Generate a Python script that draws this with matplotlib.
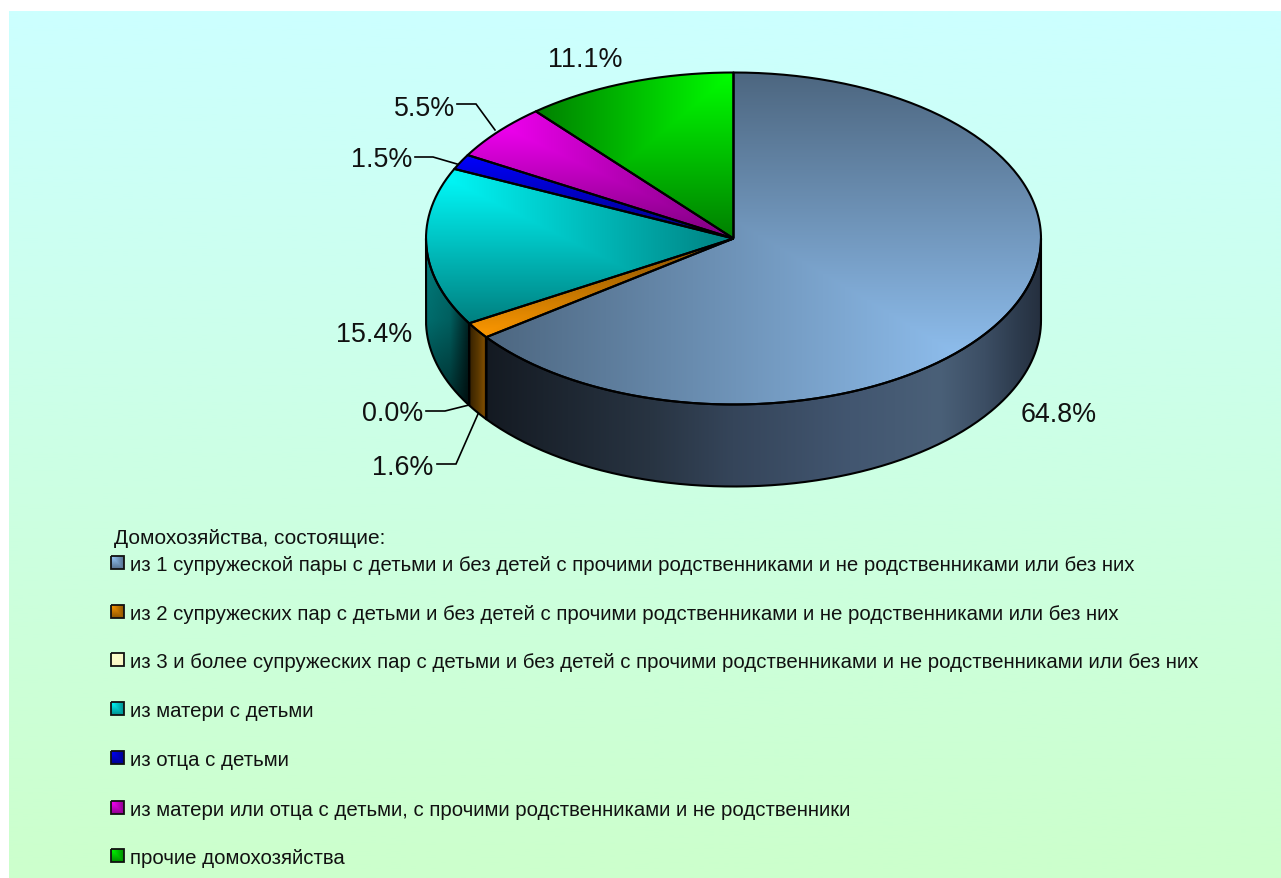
import numpy as np
import matplotlib
matplotlib.use("Agg")
import matplotlib.pyplot as plt
from matplotlib.path import Path
from matplotlib.patches import PathPatch
from matplotlib.colors import to_rgb

# ---- data ----
legend_title = "Домохозяйства, состоящие:"
categories = [
    "из 1 супружеской пары с детьми и без детей с прочими родственниками и не родственниками или без них",
    "из 2 супружеских пар с детьми и без детей с прочими родственниками и не родственниками или без них",
    "из 3 и более супружеских пар с детьми и без детей с прочими родственниками и не родственниками или без них",
    "из матери с детьми",
    "из отца с детьми",
    "из матери или отца с детьми, с прочими родственниками и не родственники",
    "прочие домохозяйства",
]
values = [64.8, 1.6, 0.0, 15.4, 1.5, 5.5, 11.1]
colors = ["#99CCFF", "#FF9900", "#FFFFCC", "#00FFFF", "#0000FF", "#FF00FF", "#00FF00"]

# ---- layout (pixel space of the figure) ----
W, H = 1281, 879
CX, CY, RX, RY, DEPTH = 733.5, 239.5, 307.5, 166, 82
bright_corner = ["br", "bl", "tl", "tl", "tl", "tl", "tr"]
wall_stops = {
    0: [(486, "#141a22"), (650, "#283442"), (733, "#35455a"), (850, "#425670"),
        (940, "#4a6078"), (985, "#3c4e64"), (1020, "#2c3a4c"), (1041, "#25303f")],
    1: [(470, "#3a2400"), (478, "#5a3800"), (484, "#7a4a00"), (487, "#4a2d00")],
    3: [(426, "#008080"), (450, "#007070"), (460, "#004a4a"), (470, "#002222")],
}
wall_y_fade = {3: ([239, 320, 406], [1.0, 0.85, 0.4])}
label_pos = [
    (1097, 415, "right"), (433, 468, "right"), (423, 414, "right"), (412, 335, "right"),
    (412, 160, "right"), (455, 109, "right"), (622, 60, "right"),
]
leaders = {
    1: [(437, 465), (456, 465), (478, 415)],
    2: [(426, 412), (445, 412), (469, 406)],
    4: [(415, 158), (433, 158), (457, 165)],
    5: [(457, 105), (476, 105), (495, 131)],
}
legend_x_text, legend_x_box = 130, 110.5
legend_ys = [564, 613, 661, 710, 759, 809, 857]

plt.rcParams["font.family"] = ["Liberation Sans", "DejaVu Sans"]
fig = plt.figure(figsize=(W / 100, H / 100), dpi=100, facecolor="white")
ax = fig.add_axes([0, 0, 1, 1])
ax.set_axis_off()


def rect_gradient(x0, x1, y0, y1, base, corner, low=0.5):
    """Path-style gradient: brightest in one corner, half-dark on the far edges."""
    nx = max(int(x1 - x0), 2)
    ny = max(int(y1 - y0), 2)
    xs = (np.arange(nx) + 0.5) / nx
    ys = (np.arange(ny) + 0.5) / ny
    if "r" not in corner:
        xs = 1 - xs
    if "b" not in corner:
        ys = 1 - ys
    X, Y = np.meshgrid(xs, ys)
    f = np.minimum(X, Y)[..., None]
    c = np.array(to_rgb(base))
    return c * (low + (1 - low) * f)


def arc(t0, t1, dy=0.0, n=200):
    t = np.radians(np.linspace(t0, t1, n))
    return np.column_stack([CX + RX * np.sin(t), CY + dy - RY * np.cos(t)])


def fill_image(img, extent, verts):
    path = Path(np.vstack([verts, verts[:1]]))
    im = ax.imshow(img, extent=extent, aspect="auto", interpolation="bilinear", zorder=2)
    im.set_clip_path(path, ax.transData)
    ax.add_patch(PathPatch(path, fc="none", ec="black", lw=1.5, joinstyle="round", zorder=3))


# background
top = np.array(to_rgb("#CCFFFF"))
bot = np.array(to_rgb("#CCFFCC"))
grad = np.linspace(0, 1, 400)[:, None, None] * (bot - top) + top
ax.imshow(grad, extent=(9, W, H, 12), aspect="auto", zorder=0)

# pie geometry from the values
total = sum(values)
edges = np.concatenate([[0], np.cumsum(values)]) / total * 360

# side walls
for i, v in enumerate(values):
    t0, t1 = edges[i], edges[i + 1]
    a, b = max(t0, 90), min(t1, 270)
    if v <= 0 or a >= b:
        continue
    outer = arc(a, b)
    verts = np.vstack([outer, arc(b, a, DEPTH)])
    stops = wall_stops[i]
    xs = np.arange(int(verts[:, 0].min()), int(verts[:, 0].max()) + 2)
    y_lo, y_hi = verts[:, 1].min(), verts[:, 1].max()
    sx = [s[0] for s in stops]
    rgb = np.array([to_rgb(s[1]) for s in stops])
    img = np.stack([np.interp(xs, sx, rgb[:, k]) for k in range(3)], axis=-1)[None, ...]
    if i in wall_y_fade:
        ys = np.arange(int(y_lo), int(y_hi) + 1)
        fade = np.interp(ys, *wall_y_fade[i])[:, None, None]
        img = img * fade
    fill_image(img, (xs[0], xs[-1], y_hi, y_lo), verts)

# top faces
for i, v in enumerate(values):
    if v <= 0:
        continue
    t0, t1 = edges[i], edges[i + 1]
    verts = np.vstack([[[CX, CY]], arc(t0, t1)])
    x0, x1 = verts[:, 0].min(), verts[:, 0].max()
    y0, y1 = verts[:, 1].min(), verts[:, 1].max()
    img = rect_gradient(x0, x1, y0, y1, colors[i], bright_corner[i])
    fill_image(img, (x0, x1, y1, y0), verts)

# leader lines
for i, pts in leaders.items():
    p = np.array(pts)
    ax.plot(p[:, 0], p[:, 1], color="black", lw=1.2, zorder=4, solid_joinstyle="miter")

# value labels
for v, (x, y, ha) in zip(values, label_pos):
    ax.text(x, y, f"{v:.1f}%", ha=ha, va="center", fontsize=19.4, color="#111111", zorder=5)

# legend
ax.text(114, 538.5, legend_title, ha="left", va="center", fontsize=15.0, color="#111111", zorder=5)
for name, col, y in zip(categories, colors, legend_ys):
    sz = 13
    x0, y0 = legend_x_box, y - sz / 2 - 0.5
    img = rect_gradient(x0, x0 + sz, y0, y0 + sz, col, "tl", low=0.55 if col != "#FFFFCC" else 0.97)
    ax.imshow(img, extent=(x0, x0 + sz, y0 + sz, y0), aspect="auto", zorder=4)
    sq = Path([(x0, y0), (x0 + sz, y0), (x0 + sz, y0 + sz), (x0, y0 + sz), (x0, y0)])
    ax.add_patch(PathPatch(sq, fc="none", ec="#111111", lw=1.3, zorder=5))
    ax.text(legend_x_text, y + 1.5, name, ha="left", va="center", fontsize=14.65, color="#111111", zorder=5)

ax.set_xlim(0, W)
ax.set_ylim(H, 0)
fig.savefig("out.png", dpi=100, facecolor="white")
